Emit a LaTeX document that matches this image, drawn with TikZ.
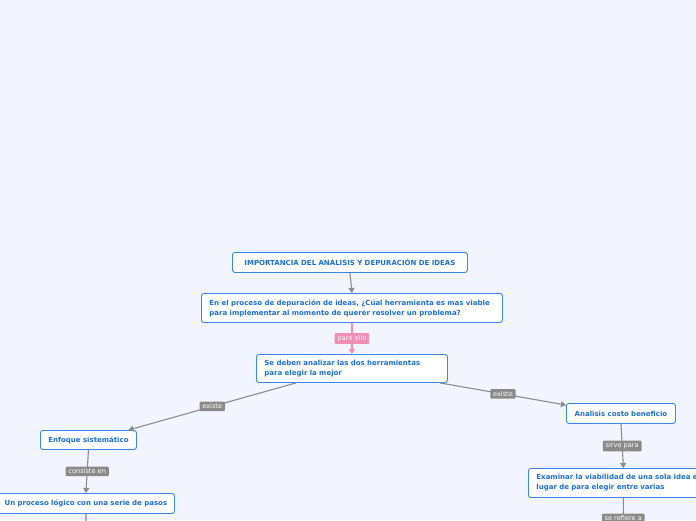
\documentclass[tikz,border=0pt]{standalone}
\usepackage{fontspec}
\setmainfont{DejaVu Sans}
\usetikzlibrary{arrows.meta}
\definecolor{bgblue}{HTML}{F2F5FE}
\definecolor{ideaborder}{HTML}{3A86E6}
\definecolor{ideatext}{HTML}{1E6FD2}
\definecolor{taggray}{HTML}{8A8A8A}
\definecolor{tagpink}{HTML}{F28DB5}
\definecolor{linkgray}{HTML}{8C8C8C}
\tikzset{
  idea/.style={draw=ideaborder, fill=white, rounded corners=2.5pt, line width=0.9pt,
    text=ideatext, font=\fontsize{7}{10}\selectfont\bfseries,
    inner xsep=8pt, inner ysep=0pt, anchor=north west, align=left},
  tag/.style={fill=taggray, text=white, font=\fontsize{6.6}{7}\selectfont,
    inner xsep=2.8pt, inner ysep=2.2pt, rounded corners=1pt},
  link/.style={draw=linkgray, line width=1.1pt, -{Triangle[length=5pt,width=6pt]}},
}
\begin{document}
\begin{tikzpicture}[x=1pt,y=-1pt]
\useasboundingbox (0,0) rectangle (696,520);
\fill[bgblue] (0,0) rectangle (696,520);
\clip (0,0) rectangle (696,520);
% ideas
\node[idea, align=center, text width=219pt, minimum height=20pt] (titulo) at (232,252)
  {IMPORTANCIA DEL ANÁLISIS Y DEPURACIÓN DE IDEAS};
\node[idea, text width=285pt, minimum height=29pt] (pregunta) at (201,293)
  {En el proceso de depuración de ideas, ¿Cúal herramienta es mas viable\\para implementar al momento de querer resolver un problema?};
\node[idea, text width=175pt, minimum height=28pt] (analizar) at (256,354)
  {Se deben analizar las dos herramientas\\para elegir la mejor};
\node[idea, align=center, inner xsep=4pt, text width=88pt, minimum height=19pt] (enfoque) at (40,430)
  {Enfoque sistemático};
\node[idea, align=center, inner xsep=4pt, text width=169pt, minimum height=20pt] (proceso) at (-3,493)
  {Un proceso lógico con una serie de pasos};
\node[idea, align=center, text width=93pt, minimum height=20pt] (costo) at (566,403)
  {Analisis costo beneficio};
\node[idea, text width=174pt, minimum height=29pt] (viabilidad) at (528,468)
  {Examinar la viabilidad de una sola idea en\\lugar de para elegir entre varias};
\coordinate (abajoP) at (86,545);
\coordinate (abajoV) at (623,539);
% links
\draw[link] (titulo.south) -- (pregunta.north);
\draw[link, draw=tagpink, -{Triangle[length=5pt,width=6pt]}] (pregunta.south)
  -- node[tag, fill=tagpink] {para ello} (analizar.north);
\draw[link] ([xshift=-56pt]analizar.south) -- node[tag] {existe} ([xshift=40pt]enfoque.north);
\draw[link] ([xshift=88pt]analizar.south) -- node[tag] {existe} ([yshift=-2pt]costo.north west);
\draw[link] (enfoque.south) -- node[tag] {consiste en} (proceso.north);
\draw[link] (costo.south) -- node[tag] {sirve para} (viabilidad.north);
\draw[link] (proceso.south) -- (abajoP);
\draw[link] (viabilidad.south) -- node[tag] {se refiere a} (abajoV);
\end{tikzpicture}
\end{document}
